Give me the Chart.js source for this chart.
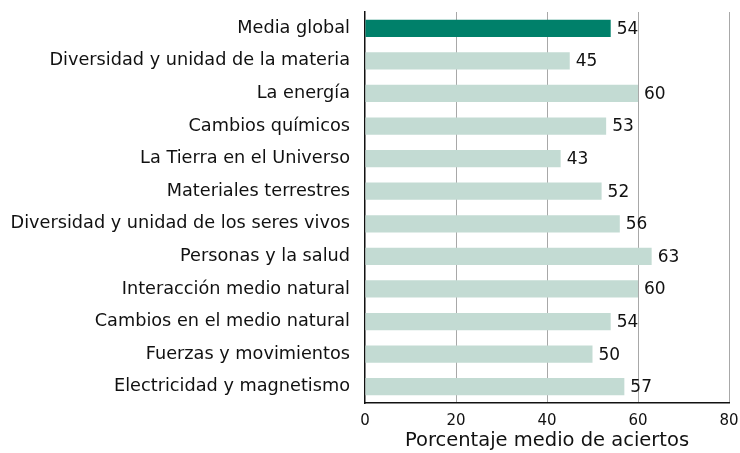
<!DOCTYPE html>
<html>
<head>
<meta charset="utf-8">
<script src="https://cdn.jsdelivr.net/npm/chart.js@4"></script>
<style>
  html, body { margin: 0; padding: 0; background: #fff; }
  #wrap { width: 740px; height: 453px; }
</style>
</head>
<body>
<div id="wrap"><canvas id="chart" width="740" height="453"></canvas></div>
<script>
// data
const categories = [
    'Media global',
    'Diversidad y unidad de la materia',
    'La energía',
    'Cambios químicos',
    'La Tierra en el Universo',
    'Materiales terrestres',
    'Diversidad y unidad de los seres vivos',
    'Personas y la salud',
    'Interacción medio natural',
    'Cambios en el medio natural',
    'Fuerzas y movimientos',
    'Electricidad y magnetismo'
];
const values = [54, 45, 60, 53, 43, 52, 56, 63, 60, 54, 50, 57];
const xTicks = [0, 20, 40, 60, 80];
const xTitle = 'Porcentaje medio de aciertos';

const fontFamily = '"DejaVu Sans", sans-serif';

// value labels at the end of each bar
const valueLabels = {
    id: 'valueLabels',
    afterDatasetsDraw(chart) {
        const ctx = chart.ctx;
        const meta = chart.getDatasetMeta(0);
        ctx.save();
        ctx.font = '17px ' + fontFamily;
        ctx.fillStyle = '#111';
        ctx.textAlign = 'left';
        ctx.textBaseline = 'middle';
        meta.data.forEach(function(bar, i) {
            ctx.fillText(String(values[i]), bar.x + 6, bar.y + 1);
        });
        ctx.restore();
    }
};

new Chart(document.getElementById('chart').getContext('2d'), {
    type: 'bar',
    data: {
        labels: categories,
        datasets: [{
            data: values,
            backgroundColor: values.map((v, i) => i === 0 ? '#00806a' : '#c3dbd3'),
            borderWidth: 0,
            barPercentage: 0.53,
            categoryPercentage: 1
        }]
    },
    options: {
        indexAxis: 'y',
        responsive: false,
        animation: false,
        layout: { padding: { top: 12, right: 11, bottom: 0, left: 0 } },
        plugins: {
            legend: { display: false },
            tooltip: { enabled: false }
        },
        scales: {
            x: {
                min: 0,
                max: 80,
                afterBuildTicks(scale) {
                    scale.ticks = xTicks.map(v => ({ value: v }));
                },
                afterFit(scale) {
                    scale.height = 50;
                    scale.paddingLeft = 0;
                    scale.paddingRight = 0;
                },
                grid: {
                    color: ctx => ctx.tick && ctx.tick.value === 0 ? 'rgba(0,0,0,0)' : '#a8a8a8',
                    lineWidth: 1,
                    drawTicks: false
                },
                border: { color: '#111', width: 1.5 },
                ticks: {
                    color: '#111',
                    font: { family: fontFamily, size: 15 },
                    padding: 9,
                    maxRotation: 0
                },
                title: {
                    display: true,
                    text: xTitle,
                    color: '#111',
                    font: { family: fontFamily, size: 19.5 },
                    padding: { top: 0, bottom: 0 }
                }
            },
            y: {
                afterFit(scale) {
                    scale.width = 365;
                    scale.paddingTop = 0;
                    scale.paddingBottom = 0;
                },
                grid: { display: false },
                border: { color: '#111', width: 1.5 },
                ticks: {
                    color: '#111',
                    font: { family: fontFamily, size: 17.7 },
                    padding: 7
                }
            }
        }
    },
    plugins: [valueLabels]
});
</script>
</body>
</html>
